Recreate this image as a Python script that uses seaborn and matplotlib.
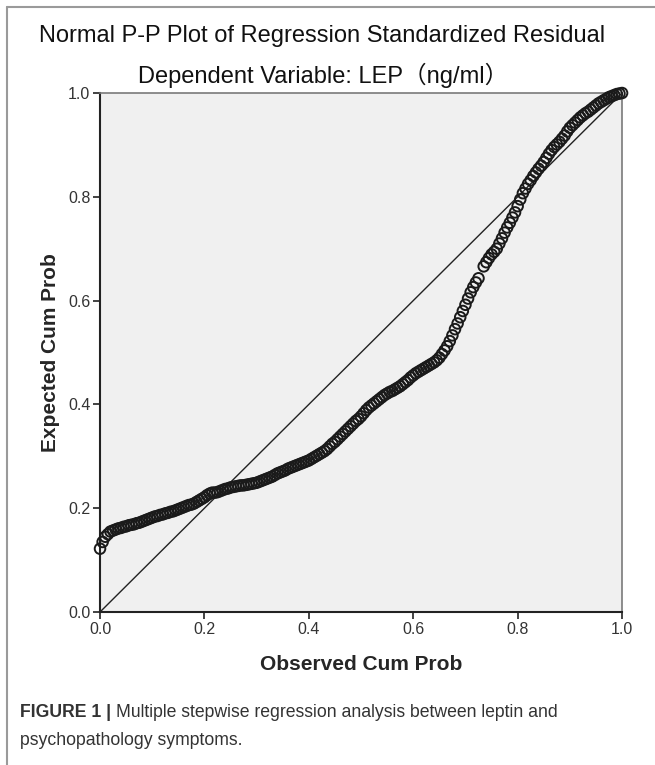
import matplotlib
matplotlib.use("Agg")
import matplotlib.pyplot as plt
import seaborn as sns
import pandas as pd
from matplotlib.lines import Line2D

# observed vs expected cumulative probability
observedCumProb = [
    0.000, 0.005, 0.010, 0.015, 0.020, 0.025, 0.030, 0.035, 0.040, 0.045,
    0.050, 0.055, 0.060, 0.065, 0.070, 0.075, 0.080, 0.085, 0.090, 0.095,
    0.100, 0.105, 0.110, 0.115, 0.120, 0.125, 0.130, 0.135, 0.140, 0.145,
    0.150, 0.155, 0.160, 0.165, 0.170, 0.175, 0.180, 0.185, 0.190, 0.195,
    0.200, 0.205, 0.210, 0.215, 0.220, 0.225, 0.230, 0.235, 0.240, 0.245,
    0.250, 0.255, 0.260, 0.265, 0.270, 0.275, 0.280, 0.285, 0.290, 0.295,
    0.300, 0.305, 0.310, 0.315, 0.320, 0.325, 0.330, 0.335, 0.340, 0.345,
    0.350, 0.355, 0.360, 0.365, 0.370, 0.375, 0.380, 0.385, 0.390, 0.395,
    0.400, 0.405, 0.410, 0.415, 0.420, 0.425, 0.430, 0.435, 0.440, 0.445,
    0.450, 0.455, 0.460, 0.465, 0.470, 0.475, 0.480, 0.485, 0.490, 0.495,
    0.500, 0.505, 0.510, 0.515, 0.520, 0.525, 0.530, 0.535, 0.540, 0.545,
    0.550, 0.555, 0.560, 0.565, 0.570, 0.575, 0.580, 0.585, 0.590, 0.595,
    0.600, 0.605, 0.610, 0.615, 0.620, 0.625, 0.630, 0.635, 0.640, 0.645,
    0.650, 0.655, 0.660, 0.665, 0.670, 0.675, 0.680, 0.685, 0.690, 0.695,
    0.700, 0.705, 0.710, 0.715, 0.720, 0.725, 0.735, 0.740, 0.745,
    0.750, 0.755, 0.760, 0.765, 0.770, 0.775, 0.780, 0.785, 0.790, 0.795,
    0.800, 0.805, 0.810, 0.815, 0.820, 0.825, 0.830, 0.835, 0.840, 0.845,
    0.850, 0.855, 0.860, 0.865, 0.870, 0.875, 0.880, 0.885, 0.890, 0.895,
    0.900, 0.905, 0.910, 0.915, 0.920, 0.925, 0.930, 0.935, 0.940, 0.945,
    0.950, 0.955, 0.960, 0.965, 0.970, 0.975, 0.980, 0.985, 0.990, 0.995,
    1.000,
]
expectedCumProb = [
    0.122, 0.135, 0.145, 0.150, 0.155, 0.157, 0.159, 0.161, 0.162, 0.164,
    0.165, 0.167, 0.168, 0.169, 0.171, 0.172, 0.174, 0.176, 0.178, 0.180,
    0.182, 0.184, 0.185, 0.187, 0.188, 0.190, 0.191, 0.193, 0.194, 0.196,
    0.198, 0.200, 0.202, 0.204, 0.206, 0.207, 0.209, 0.212, 0.215, 0.218,
    0.221, 0.225, 0.228, 0.230, 0.230, 0.231, 0.233, 0.235, 0.237, 0.238,
    0.240, 0.241, 0.242, 0.243, 0.244, 0.244, 0.245, 0.246, 0.247, 0.248,
    0.249, 0.251, 0.253, 0.255, 0.257, 0.259, 0.261, 0.264, 0.267, 0.269,
    0.271, 0.273, 0.276, 0.278, 0.280, 0.282, 0.284, 0.286, 0.288, 0.290,
    0.292, 0.295, 0.298, 0.301, 0.304, 0.307, 0.310, 0.314, 0.319, 0.324,
    0.328, 0.333, 0.338, 0.343, 0.348, 0.353, 0.358, 0.363, 0.368, 0.372,
    0.377, 0.383, 0.389, 0.394, 0.398, 0.402, 0.406, 0.410, 0.414, 0.418,
    0.421, 0.424, 0.426, 0.429, 0.432, 0.435, 0.439, 0.443, 0.447, 0.452,
    0.456, 0.460, 0.463, 0.466, 0.469, 0.472, 0.475, 0.478, 0.481, 0.485,
    0.490, 0.497, 0.504, 0.512, 0.522, 0.533, 0.545, 0.556, 0.568, 0.580,
    0.592, 0.604, 0.616, 0.626, 0.635, 0.643, 0.666, 0.674, 0.682,
    0.689, 0.694, 0.700, 0.710, 0.720, 0.731, 0.741, 0.750, 0.760, 0.770,
    0.782, 0.795, 0.807, 0.816, 0.825, 0.832, 0.840, 0.847, 0.854, 0.860,
    0.867, 0.875, 0.883, 0.890, 0.896, 0.901, 0.906, 0.912, 0.918, 0.926,
    0.933, 0.938, 0.943, 0.948, 0.953, 0.957, 0.961, 0.964, 0.968, 0.972,
    0.976, 0.980, 0.983, 0.986, 0.989, 0.992, 0.994, 0.996, 0.998, 0.999,
    1.000,
]
tickValues = [0.0, 0.2, 0.4, 0.6, 0.8, 1.0]
tickLabels = ["0.0", "0.2", "0.4", "0.6", "0.8", "1.0"]

sns.set_style("white")
plt.rcParams["font.family"] = ["Liberation Sans", "Noto Sans CJK SC", "DejaVu Sans"]

df_pp = pd.DataFrame({"Observed Cum Prob": observedCumProb,
                      "Expected Cum Prob": expectedCumProb})

fig = plt.figure(figsize=(6.55, 7.65), dpi=100)
ax = fig.add_axes([0.1527, 0.2, 0.797, 0.6784])
ax.set_facecolor("#f0f0f0")

# identity reference line
ax.axline((0, 0), slope=1, color="#222222", linewidth=1.0, zorder=2)

sns.scatterplot(x="Observed Cum Prob", y="Expected Cum Prob", data=df_pp, ax=ax,
                marker="o", s=58, facecolor="none", edgecolor="#1a1a1a",
                linewidth=1.4, zorder=3, clip_on=False)

ax.set_xlim(0, 1)
ax.set_ylim(0, 1)
ax.set_xticks(tickValues)
ax.set_xticklabels(tickLabels)
ax.set_yticks(tickValues)
ax.set_yticklabels(tickLabels)
ax.tick_params(axis="both", direction="out", length=5, width=1.2, color="#222222",
               labelsize=11.5, labelcolor="#333333", pad=2,
               bottom=True, left=True)

for side in ["left", "bottom"]:
    ax.spines[side].set_color("#222222")
    ax.spines[side].set_linewidth(1.5)
for side in ["top", "right"]:
    ax.spines[side].set_color("#7a7a7a")
    ax.spines[side].set_linewidth(1.2)

ax.set_xlabel("Observed Cum Prob", fontsize=15, fontweight="bold", labelpad=13)
ax.set_ylabel("Expected Cum Prob", fontsize=15, fontweight="bold", labelpad=6)

fig.text(0.492, 0.953, "Normal P-P Plot of Regression Standardized Residual",
         ha="center", va="center", fontsize=17, color="#111111")
fig.text(0.493, 0.902, "Dependent Variable: LEP（ng/ml）",
         ha="center", va="center", fontsize=17, color="#111111")

# caption below the chart
fig.text(0.031, 0.069, "FIGURE 1 |", ha="left", va="center", fontsize=12.7,
         fontweight="bold", color="#333333")
fig.text(0.177, 0.069, "Multiple stepwise regression analysis between leptin and",
         ha="left", va="center", fontsize=12.7, color="#333333")
fig.text(0.031, 0.032, "psychopathology symptoms.", ha="left", va="center",
         fontsize=12.7, color="#333333")

# thin frame on the top and left like the source figure
fig.add_artist(Line2D([0.011, 1.0], [0.991, 0.991], color="#9a9a9a", linewidth=1.5,
                      transform=fig.transFigure))
fig.add_artist(Line2D([0.011, 0.011], [0.0, 0.991], color="#9a9a9a", linewidth=1.5,
                      transform=fig.transFigure))

plt.savefig("out.png", dpi=100)
plt.close()
